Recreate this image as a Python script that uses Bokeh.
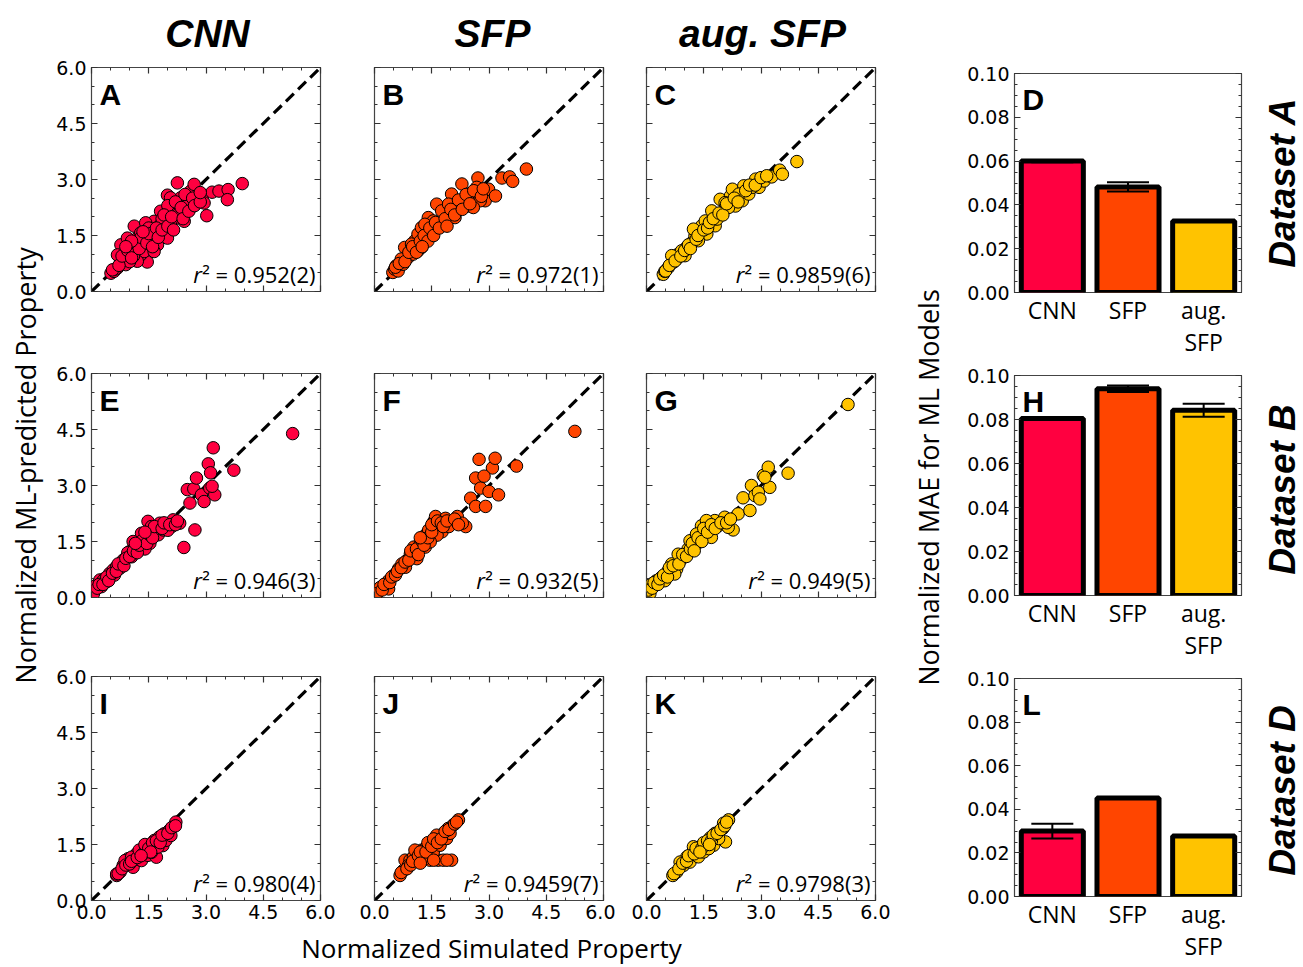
import math
from bokeh.plotting import figure
from bokeh.layouts import row, column
from bokeh.models import (Range1d, FixedTicker, NumeralTickFormatter, LinearAxis,
                          Label, Slope, Whisker, TeeHead, ColumnDataSource, CustomJSTickFormatter)
from bokeh.embed import file_html
from bokeh.resources import INLINE

# ---------------- data ----------------
models = ["CNN", "SFP", "aug. SFP"]
model_tick_labels = ["CNN", "SFP", "aug.\nSFP"]
model_colors = ["#FF0040", "#FF4500", "#FFC300"]

# Dataset A
a_cnn_x = [0.51, 0.59, 0.68, 0.90, 1.46, 1.12, 1.12, 1.03, 0.77, 1.20, 1.29, 1.55, 1.73, 1.64, 1.81,
           1.94, 2.07, 1.99, 2.25, 2.34, 2.51, 2.60, 2.77, 2.90, 2.95, 3.02, 3.16, 3.34, 3.58, 3.56,
           3.95, 2.25, 2.43, 2.07, 1.90, 1.38, 0.94, 1.20, 1.55, 1.73, 1.29, 1.42, 1.81, 2.07, 2.25,
           2.60, 2.43, 1.99, 1.64, 1.03, 0.77, 0.68, 0.94, 2.69, 2.16,
           1.10, 1.35, 1.60, 1.85, 2.30, 2.55, 0.62, 0.85, 1.00, 1.50, 2.00, 2.75,
           0.55, 0.72, 0.80, 0.95, 1.05, 1.15, 1.25, 1.30, 1.45, 1.50, 1.60, 1.70, 1.75, 1.85, 1.90,
           2.00, 2.10, 2.15, 2.20, 2.35, 2.40, 2.45, 2.55, 2.65, 2.70, 2.85, 2.85, 1.35, 1.05, 0.90]
a_cnn_y = [0.49, 0.54, 0.63, 0.72, 0.79, 1.12, 1.75, 1.25, 1.25, 1.43, 0.98, 1.57, 1.57, 1.88, 2.15,
           1.97, 2.24, 2.58, 2.91, 2.51, 2.51, 2.24, 2.60, 2.51, 2.37, 2.03, 2.66, 2.69, 2.73, 2.46,
           2.89, 1.97, 1.88, 1.79, 1.61, 1.07, 0.90, 0.81, 1.25, 1.25, 1.57, 1.84, 1.79, 2.51, 2.33,
           2.69, 2.24, 1.43, 1.07, 1.07, 0.81, 0.98, 1.43, 2.87, 2.06,
           0.95, 1.35, 1.40, 1.95, 2.10, 2.35, 0.60, 0.85, 0.80, 1.70, 2.30, 2.45,
           0.58, 0.70, 0.95, 1.10, 0.90, 1.30, 1.15, 1.45, 1.30, 1.55, 1.20, 1.70, 1.45, 1.65, 2.05,
           1.75, 2.00, 1.65, 2.40, 2.25, 1.95, 2.60, 2.15, 2.50, 2.30, 2.40, 2.65, 1.60, 1.35, 1.20]

a_sfp_x = [0.48, 0.53, 0.62, 0.57, 0.75, 0.79, 0.88, 1.01, 1.06, 1.14, 1.23, 1.32, 1.41, 1.54, 1.63,
           1.76, 1.80, 2.02, 2.02, 2.20, 2.29, 2.37, 2.46, 2.68, 2.71, 2.68, 2.90, 2.99, 3.17, 3.34,
           3.54, 3.62, 3.98, 1.67, 1.50, 1.23, 0.97, 0.70, 2.11, 2.46, 1.94, 1.32, 1.14, 2.77, 2.59,
           0.55, 0.65, 0.80, 0.90, 1.00, 1.10, 1.20, 1.30, 1.40, 1.45, 1.55, 1.60, 1.70, 1.85, 1.90,
           2.00, 2.10, 2.20, 2.30, 2.40, 2.50, 2.60, 2.80, 2.85, 1.25]
a_sfp_y = [0.51, 0.60, 0.55, 0.69, 0.73, 1.18, 0.91, 1.00, 1.36, 1.54, 1.71, 1.36, 1.98, 1.89, 2.34,
           2.16, 1.80, 2.03, 2.61, 2.29, 2.88, 2.52, 2.29, 2.61, 3.04, 2.79, 2.43, 2.74, 2.56, 3.04,
           3.07, 2.95, 3.28, 1.71, 1.54, 1.18, 1.27, 0.87, 1.98, 2.61, 2.34, 1.80, 1.09, 2.43, 2.25,
           0.65, 0.75, 0.80, 1.05, 1.20, 1.05, 1.35, 1.50, 1.35, 1.70, 1.50, 1.85, 1.70, 1.95, 1.75,
           2.20, 2.05, 2.45, 2.20, 2.60, 2.35, 2.70, 2.55, 2.75, 1.20]

a_aug_x = [0.44, 0.48, 0.57, 0.70, 0.79, 0.83, 1.05, 1.19, 1.27, 1.45, 1.45, 1.58, 1.71, 1.80, 1.85,
           1.93, 2.02, 2.20, 2.25, 2.33, 2.51, 2.55, 2.68, 2.86, 2.95, 3.08, 3.28, 3.49, 3.56, 3.94,
           1.01, 0.92, 1.23, 1.54, 1.98, 2.15, 2.42, 2.77, 0.66, 1.36, 1.71, 2.06,
           0.50, 0.60, 0.75, 0.90, 1.00, 1.10, 1.15, 1.30, 1.35, 1.50, 1.60, 1.65, 1.75, 1.90, 2.00,
           2.10, 2.30, 2.40, 2.60, 2.70, 2.85, 3.00, 3.15]
a_aug_y = [0.46, 0.54, 0.64, 0.78, 0.87, 1.00, 1.18, 1.31, 1.49, 1.58, 1.76, 1.54, 1.89, 1.76, 1.94,
           2.47, 2.16, 2.56, 2.74, 2.29, 2.43, 2.83, 2.61, 3.01, 2.79, 2.96, 3.07, 3.25, 3.14, 3.48,
           0.96, 1.09, 1.67, 1.89, 2.07, 2.25, 2.61, 2.79, 0.96, 1.36, 2.16, 2.38,
           0.55, 0.70, 0.82, 0.95, 1.10, 1.25, 1.15, 1.40, 1.50, 1.65, 1.70, 1.85, 1.95, 2.10, 2.05,
           2.35, 2.50, 2.40, 2.70, 2.85, 2.85, 3.05, 3.10]

# Dataset B
b_cnn_x = [0.09, 0.13, 0.22, 0.35, 0.48, 0.57, 0.66, 0.79, 0.83, 1.00, 1.05, 1.18, 1.27, 1.35, 1.44,
           1.53, 1.48, 1.57, 1.70, 1.79, 1.97, 2.14, 2.31, 2.10, 2.42, 2.71, 2.58, 2.51, 2.68, 2.75,
           2.88, 2.95, 3.10, 3.06, 3.12, 3.19, 3.23, 3.16, 3.73, 5.27, 0.92, 0.74, 1.31, 1.75, 1.88,
           1.09, 0.26, 0.39, 0.30, 0.60, 0.95, 1.15, 1.40, 1.60, 2.00, 2.20,
           0.05, 0.15, 0.20, 0.30, 0.40, 0.45, 0.55, 0.65, 0.70, 0.85, 0.90, 1.00, 1.10, 1.20, 1.25,
           1.35, 1.45, 1.50, 1.60, 1.65, 1.85, 1.90, 2.05, 2.20, 2.25, 1.40, 1.15]
b_cnn_y = [0.20, 0.33, 0.47, 0.51, 0.65, 0.74, 0.83, 0.91, 1.00, 1.23, 1.09, 1.36, 1.50, 1.41, 1.63,
           1.45, 2.04, 1.90, 1.81, 1.99, 1.95, 2.08, 1.99, 1.90, 1.34, 1.81, 2.53, 2.89, 2.91, 3.20,
           2.75, 2.57, 2.93, 3.58, 3.34, 4.01, 2.75, 2.98, 3.41, 4.39, 1.09, 0.78, 1.72, 1.68, 1.81,
           1.50, 0.29, 0.42, 0.45, 0.60, 1.20, 1.20, 1.30, 1.75, 1.80, 2.00,
           0.10, 0.25, 0.35, 0.35, 0.55, 0.45, 0.65, 0.70, 0.90, 0.85, 1.05, 1.10, 1.25, 1.20, 1.40,
           1.55, 1.45, 1.70, 1.60, 1.90, 1.85, 2.00, 1.95, 1.95, 2.05, 1.75, 1.45]

b_sfp_x = [0.09, 0.15, 0.28, 0.37, 0.50, 0.63, 0.72, 0.85, 0.94, 1.03, 1.07, 1.20, 1.33, 1.42, 1.55,
           1.60, 1.68, 1.77, 1.86, 2.04, 2.17, 2.39, 2.30, 2.52, 2.65, 2.74, 2.78, 2.65, 2.91, 3.00,
           3.09, 3.16, 2.87, 3.25, 3.72, 5.25, 1.64, 1.11, 0.81, 0.37, 1.33, 1.95, 1.46,
           0.05, 0.20, 0.25, 0.40, 0.45, 0.55, 0.60, 0.70, 0.80, 0.90, 0.95, 1.10, 1.15, 1.25, 1.30,
           1.40, 1.50, 1.50, 1.65, 1.75, 1.80, 1.90, 2.10, 2.20, 1.20]
b_sfp_y = [0.14, 0.27, 0.36, 0.45, 0.59, 0.77, 0.90, 0.99, 1.17, 1.35, 1.22, 1.44, 1.67, 1.81, 2.03,
           2.17, 1.85, 1.76, 2.12, 2.03, 2.17, 1.90, 1.99, 2.66, 3.20, 3.70, 2.93, 2.44, 2.44, 2.84,
           3.47, 3.73, 3.25, 2.75, 3.52, 4.45, 1.67, 1.04, 0.81, 0.23, 1.35, 1.90, 1.49,
           0.10, 0.20, 0.35, 0.40, 0.55, 0.60, 0.70, 0.80, 0.95, 1.00, 1.25, 1.30, 1.15, 1.50, 1.40,
           1.60, 1.75, 1.95, 2.05, 2.00, 1.90, 2.05, 2.10, 1.95, 1.60]

b_aug_x = [0.09, 0.13, 0.26, 0.39, 0.57, 0.66, 0.79, 0.92, 1.00, 1.09, 1.14, 1.31, 1.40, 1.44, 1.53,
           1.66, 1.79, 1.88, 2.01, 2.05, 2.27, 2.40, 2.53, 2.71, 2.75, 2.84, 2.93, 2.97, 3.06, 3.19,
           3.23, 3.10, 3.71, 5.28, 1.31, 0.83, 0.74, 0.48, 1.70, 2.14, 1.57,
           0.05, 0.15, 0.20, 0.30, 0.35, 0.45, 0.55, 0.60, 0.70, 0.85, 0.95, 1.05, 1.15, 1.20, 1.35,
           1.45, 1.50, 1.60, 1.70, 1.80, 1.95, 2.10, 2.20, 1.25]
b_aug_y = [0.11, 0.36, 0.45, 0.54, 0.72, 0.90, 0.76, 1.03, 1.16, 1.30, 1.52, 1.43, 1.52, 1.92, 1.70,
           1.84, 2.06, 1.92, 2.06, 2.15, 1.81, 2.24, 2.67, 2.33, 3.00, 2.73, 2.82, 2.64, 3.27, 3.49,
           2.95, 3.22, 3.33, 5.17, 1.70, 1.16, 0.63, 0.45, 1.61, 1.88, 2.06,
           0.20, 0.25, 0.40, 0.35, 0.50, 0.60, 0.55, 0.80, 0.85, 0.90, 1.15, 1.10, 1.30, 1.45, 1.60,
           1.50, 1.85, 1.75, 1.95, 1.85, 2.00, 2.00, 2.10, 1.25]

# Dataset D
d_cnn_x = [0.66, 0.75, 0.83, 0.96, 1.09, 1.15, 1.27, 1.31, 1.44, 1.48, 1.57, 1.70, 1.65, 1.78, 1.87,
           1.91, 2.04, 2.17, 2.21, 0.96, 0.88, 1.18, 1.39, 1.57, 1.74, 1.95, 2.08, 1.05, 0.66,
           0.70, 0.80, 0.90, 1.00, 1.05, 1.20, 1.25, 1.35, 1.40, 1.50, 1.60, 1.70, 1.80, 1.85, 2.00,
           2.10, 2.20, 1.55, 1.30]
d_cnn_y = [0.67, 0.76, 0.94, 1.03, 0.89, 1.10, 1.25, 1.07, 1.38, 1.21, 1.47, 1.16, 1.61, 1.70, 1.47,
           1.79, 1.88, 2.01, 2.10, 1.12, 1.07, 1.25, 1.43, 1.29, 1.43, 1.61, 1.74, 1.16, 0.71,
           0.72, 0.85, 0.95, 0.98, 1.05, 1.15, 1.35, 1.25, 1.50, 1.40, 1.55, 1.60, 1.55, 1.75, 1.80,
           1.95, 2.00, 1.30, 1.20]

d_sfp_x = [0.67, 0.76, 0.80, 0.93, 1.02, 1.11, 1.24, 1.37, 1.45, 1.59, 1.67, 1.80, 1.80, 2.02, 1.93,
           2.06, 2.20, 1.28, 1.54, 1.72, 1.89, 1.45, 0.89, 1.06, 1.32, 1.98, 1.63,
           0.70, 0.85, 0.95, 1.00, 1.15, 1.20, 1.35, 1.40, 1.50, 1.55, 1.65, 1.75, 1.85, 1.95, 2.10,
           2.15, 1.90, 1.55, 1.20]
d_sfp_y = [0.67, 0.81, 1.08, 1.08, 1.17, 1.12, 1.35, 1.44, 1.08, 1.57, 1.08, 1.75, 1.08, 1.08, 1.93,
           2.02, 2.16, 1.21, 1.30, 1.48, 1.66, 1.44, 0.94, 1.35, 1.12, 1.80, 1.75,
           0.75, 0.85, 0.95, 1.05, 1.20, 1.30, 1.30, 1.55, 1.45, 1.65, 1.55, 1.65, 1.85, 1.90, 2.05,
           2.10, 1.08, 1.08, 1.00]

d_aug_x = [0.69, 0.79, 0.97, 1.06, 1.19, 1.28, 1.41, 1.54, 1.67, 1.80, 2.00, 2.15, 2.07, 0.88, 1.14,
           1.36, 1.50, 1.76, 1.89, 1.63, 1.23, 2.02,
           0.72, 0.85, 0.95, 1.05, 1.10, 1.25, 1.30, 1.45, 1.50, 1.60, 1.70, 1.75, 1.85, 1.95, 2.05,
           2.10, 1.40, 1.65]
d_aug_y = [0.67, 0.76, 0.94, 1.17, 1.21, 1.30, 1.44, 1.53, 1.68, 1.80, 1.93, 2.16, 1.57, 1.03, 1.03,
           1.17, 1.30, 1.48, 1.66, 1.39, 1.44, 2.07,
           0.72, 0.85, 1.00, 1.05, 1.20, 1.25, 1.40, 1.40, 1.55, 1.60, 1.60, 1.75, 1.80, 1.90, 2.00,
           2.10, 1.30, 1.50]

r2_values = ["0.952(2)", "0.972(1)", "0.9859(6)",
             "0.946(3)", "0.932(5)", "0.949(5)",
             "0.980(4)", "0.9459(7)", "0.9798(3)"]
panel_letters = ["A", "B", "C", "E", "F", "G", "I", "J", "K"]
bar_letters = ["D", "H", "L"]

mae_a = [0.0600, 0.0482, 0.0327]
err_a = [0.0005, 0.0021, 0.0003]
mae_b = [0.0805, 0.0940, 0.0842]
err_b = [0.0000, 0.0015, 0.0030]
mae_d = [0.0300, 0.0452, 0.0278]
err_d = [0.0034, 0.0003, 0.0002]

scatter_ticks = [0.0, 1.5, 3.0, 4.5, 6.0]
bar_ticks = [0.0, 0.02, 0.04, 0.06, 0.08, 0.10]
dataset_names = ["Dataset A", "Dataset B", "Dataset D"]

# ---------------- styling helpers ----------------
TICK_FONT = "DejaVu Sans"
TICK_SIZE = "19px"
LABEL_FONT = "Open Sans"
TICK_COLOR = "#333333"

OPEN_SANS_W = {"0": 0.572, "1": 0.572, "2": 0.572, "3": 0.572, "4": 0.572, "5": 0.572, "6": 0.572,
               "7": 0.572, "8": 0.572, "9": 0.572, ".": 0.266, "(": 0.296, ")": 0.296, "=": 0.572,
               " ": 0.26, "\u00b2": 0.37}


def text_width(s, size):
    return sum(OPEN_SANS_W.get(c, 0.55) for c in s) * size


def style_axis(ax, ticks, minor, fmt, show_labels, standoff=5):
    ax.ticker = FixedTicker(ticks=ticks, minor_ticks=minor)
    ax.axis_line_color = None
    ax.major_tick_in = 6
    ax.major_tick_out = 0
    ax.minor_tick_in = 3
    ax.minor_tick_out = 0
    ax.major_tick_line_color = TICK_COLOR
    ax.minor_tick_line_color = TICK_COLOR
    ax.major_tick_line_width = 1.2
    ax.minor_tick_line_width = 1
    ax.major_label_text_font = TICK_FONT
    ax.major_label_text_color = "black"
    if show_labels:
        ax.formatter = NumeralTickFormatter(format=fmt)
        ax.major_label_text_font_size = TICK_SIZE
        ax.major_label_standoff = standoff
    else:
        ax.formatter = CustomJSTickFormatter(code="return ''")
        ax.major_label_text_font_size = "1px"
        ax.major_label_standoff = 0


def scatter_panel(xs, ys, color, letter, r2, show_x, show_y, bl, br, bt, bb):
    p = figure(frame_width=229, frame_height=224, x_range=Range1d(0, 6), y_range=Range1d(0, 6),
               toolbar_location=None, output_backend="svg",
               min_border_left=bl, min_border_right=br, min_border_top=bt, min_border_bottom=bb)
    p.grid.visible = False
    p.outline_line_color = "#444444"
    p.outline_line_width = 1.2
    right_ax = LinearAxis()
    top_ax = LinearAxis()
    p.add_layout(right_ax, "right")
    p.add_layout(top_ax, "above")
    minor = [i * 0.5 for i in range(13)]
    style_axis(p.below[0], scatter_ticks, minor, "0.0", show_x, standoff=4)
    style_axis(p.left[0], scatter_ticks, minor, "0.0", show_y)
    style_axis(right_ax, scatter_ticks, minor, "0.0", False)
    style_axis(top_ax, scatter_ticks, minor, "0.0", False)

    p.add_layout(Slope(gradient=1, y_intercept=0, line_color="black", line_width=3.2,
                       line_dash="11 6", level="underlay"))
    p.scatter(xs, ys, size=12.5, fill_color=color, line_color="black", line_width=1)

    p.add_layout(Label(x=0, y=6, x_offset=8, y_offset=-10, text=letter, text_font="Liberation Sans",
                       text_font_style="bold", text_font_size="30px", text_baseline="top",
                       text_align="left", text_color="black"))
    main = "\u00b2 = " + r2
    w = text_width(main, 22)
    p.add_layout(Label(x=6, y=0.46, x_offset=-5, text=main, text_align="right",
                       text_baseline="middle", text_font=LABEL_FONT, text_font_size="22px",
                       text_color="black"))
    p.add_layout(Label(x=6, y=0.46, x_offset=-5 - w + 0.5, text="r", text_align="right",
                       text_baseline="middle", text_font=LABEL_FONT, text_font_size="22px",
                       text_font_style="italic", text_color="black"))
    return p


bar_pos = [i + 0.5 for i in range(len(models))]


def bar_panel(vals, errs, letter, frame_h, bt, bb):
    src = ColumnDataSource(dict(pos=bar_pos, mae=vals,
                                upper=[v + e for v, e in zip(vals, errs)],
                                lower=[v - e for v, e in zip(vals, errs)],
                                color=model_colors))
    p = figure(x_range=Range1d(0, len(models)), y_range=Range1d(0, 0.1), frame_width=227,
               frame_height=frame_h, toolbar_location=None, output_backend="svg",
               min_border_left=59, min_border_right=14, min_border_top=bt, min_border_bottom=bb)
    p.grid.visible = False
    p.outline_line_color = "#444444"
    p.outline_line_width = 1.2
    p.vbar(x="pos", top="mae", width=0.82, source=src, fill_color="color",
           line_color="black", line_width=5)
    p.add_layout(Whisker(base="pos", upper="upper", lower="lower", source=src,
                         line_color="black", line_width=2, level="annotation",
                         upper_head=TeeHead(size=42, line_color="black", line_width=2),
                         lower_head=TeeHead(size=42, line_color="black", line_width=2)))
    minor = [i * 0.005 for i in range(21)]
    right_ax = LinearAxis()
    p.add_layout(right_ax, "right")
    style_axis(p.left[0], bar_ticks, minor, "0.00", True)
    style_axis(right_ax, bar_ticks, minor, "0.00", False)
    xa = p.below[0]
    xa.ticker = FixedTicker(ticks=bar_pos, minor_ticks=[])
    xa.major_label_overrides = {pos: lab for pos, lab in zip(bar_pos, model_tick_labels)}
    xa.axis_line_color = None
    xa.major_tick_line_color = None
    xa.minor_tick_line_color = None
    xa.major_tick_out = 0
    xa.minor_tick_out = 0
    xa.major_tick_in = 0
    xa.minor_tick_in = 0
    xa.major_label_text_font = LABEL_FONT
    xa.major_label_text_font_size = "23px"
    xa.major_label_text_color = "black"
    xa.major_label_text_line_height = 1.0
    xa.major_label_standoff = 1
    p.add_layout(Label(x=0, y=0.1, x_offset=8, y_offset=-9, text=letter, text_font="Liberation Sans",
                       text_font_style="bold", text_font_size="30px", text_baseline="top",
                       text_align="left", text_color="black"))
    return p


def text_canvas(w, h):
    p = figure(frame_width=w, frame_height=h, x_range=Range1d(0, w), y_range=Range1d(0, h),
               x_axis_location=None, y_axis_location=None, toolbar_location=None,
               output_backend="svg", min_border=0, outline_line_color=None)
    p.grid.visible = False
    return p


# ---------------- build panels ----------------
scatter_sets = [(a_cnn_x, a_cnn_y), (a_sfp_x, a_sfp_y), (a_aug_x, a_aug_y),
                (b_cnn_x, b_cnn_y), (b_sfp_x, b_sfp_y), (b_aug_x, b_aug_y),
                (d_cnn_x, d_cnn_y), (d_sfp_x, d_sfp_y), (d_aug_x, d_aug_y)]
col_borders = [(46, 15), (39, 12), (31, 15)]
row_borders = [(9, 39), (43, 38), (41, 29)]

rows = []
for r in range(3):
    panels = []
    for c in range(3):
        k = r * 3 + c
        xs, ys = scatter_sets[k]
        bl, br = col_borders[c]
        bt, bb = row_borders[r]
        panels.append(scatter_panel(xs, ys, model_colors[c], panel_letters[k], r2_values[k],
                                    r == 2, c == 0, bl, br, bt, bb))
    rows.append(row(*panels))

titles = text_canvas(845, 58)
for name, cx in zip(models, [162, 447, 717]):
    titles.add_layout(Label(x=cx, y=25, text=name, text_align="center", text_baseline="middle",
                            text_font="Liberation Sans", text_font_style="bold italic",
                            text_font_size="39px", text_color="black"))

xlab = text_canvas(845, 38)
xlab.add_layout(Label(x=446, y=20, text="Normalized Simulated Property", text_align="center",
                      text_baseline="middle", text_font=LABEL_FONT, text_font_size="26px",
                      text_color="black"))

ylab = text_canvas(45, 967)
ylab.add_layout(Label(x=25, y=502, text="Normalized ML-predicted Property", angle=math.pi / 2,
                      text_align="center", text_baseline="middle", text_font=LABEL_FONT,
                      text_font_size="27px", text_color="black"))

maelab = text_canvas(65, 967)
maelab.add_layout(Label(x=38, y=480, text="Normalized MAE for ML Models", angle=math.pi / 2,
                        text_align="center", text_baseline="middle", text_font=LABEL_FONT,
                        text_font_size="27px", text_color="black"))

dslab = text_canvas(48, 967)
for name, cy in zip(dataset_names, [785, 478, 177]):
    dslab.add_layout(Label(x=27, y=cy, text=name, angle=math.pi / 2, text_align="center",
                           text_baseline="middle", text_font="Liberation Sans",
                           text_font_style="bold italic", text_font_size="37px",
                           text_color="black"))

pD = bar_panel(mae_a, err_a, bar_letters[0], 219, 73, 71)
pH = bar_panel(mae_b, err_b, bar_letters[1], 220, 12, 71)
pL = bar_panel(mae_d, err_d, bar_letters[2], 218, 12, 71)

center = column(titles, rows[0], rows[1], rows[2], xlab)
bars = column(pD, pH, pL)
root = row(ylab, center, maelab, bars, dslab)

open("out.html", "w").write(file_html(root, INLINE))
